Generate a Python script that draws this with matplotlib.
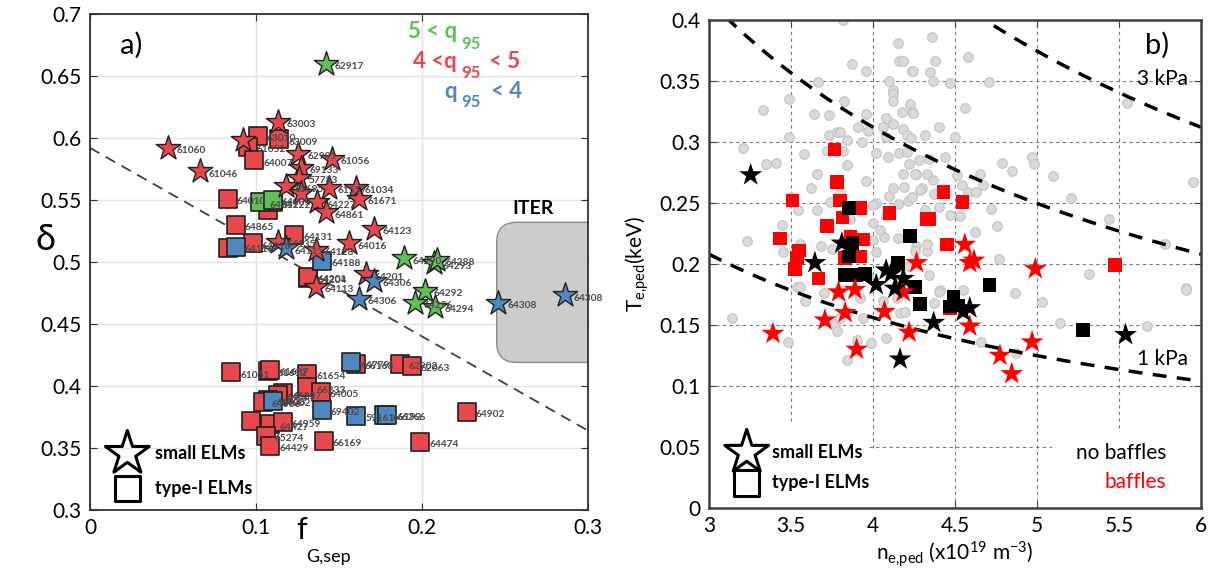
import matplotlib
matplotlib.use('Agg')
import matplotlib.pyplot as plt
from matplotlib.patches import FancyBboxPatch, Rectangle
import numpy as np

plt.rcParams['font.family'] = ['Lato', 'DejaVu Sans']
plt.rcParams['mathtext.fontset'] = 'custom'
plt.rcParams['mathtext.rm'] = 'Lato'
plt.rcParams['mathtext.it'] = 'Lato:italic'
plt.rcParams['mathtext.bf'] = 'Lato:bold'

# ---------------- panel a) data ----------------
# small ELMs (stars)
star_f = [0.142, 0.189, 0.207, 0.209, 0.2016, 0.1955, 0.208,
          0.047, 0.066, 0.113, 0.092, 0.1255, 0.1455, 0.127, 0.126, 0.118,
          0.144, 0.160, 0.162, 0.137, 0.142, 0.171, 0.156, 0.113, 0.136,
          0.166, 0.136, 0.127,
          0.118, 0.171, 0.162, 0.246, 0.286]
star_d = [0.660, 0.503, 0.499, 0.502, 0.477, 0.467, 0.464,
          0.592, 0.573, 0.613, 0.598, 0.587, 0.583, 0.576, 0.568, 0.561,
          0.560, 0.560, 0.551, 0.548, 0.540, 0.527, 0.515, 0.516, 0.510,
          0.490, 0.480, 0.556,
          0.511, 0.485, 0.470, 0.467, 0.473]
star_q = ['hi'] * 7 + ['mid'] * 21 + ['lo'] * 5
star_lbl = ['62917', '64290', '64293', '64288', '64292', '64296', '64294',
            '61060', '61046', '63003', '', '62901', '61056', '69133', '57783', '61695',
            '61557', '61034', '61671', '64227', '64861', '64123', '64016', '64135', '64128',
            '64201', '64113', '',
            '64115', '64306', '64306', '64308', '64308']

# type-I ELMs (squares)
sq_f = [0.101, 0.114, 0.095, 0.099, 0.083, 0.107, 0.110, 0.088, 0.083, 0.098,
        0.123, 0.1316, 0.1316, 0.085, 0.1075, 0.1085, 0.131, 0.160, 0.131, 0.139,
        0.1165, 0.113, 0.107, 0.104, 0.097, 0.1086, 0.116, 0.106, 0.1086, 0.141,
        0.199, 0.227, 0.1865, 0.194,
        0.1025, 0.110,
        0.088, 0.140, 0.1575, 0.110, 0.1395, 0.1605, 0.177, 0.179]
sq_d = [0.602, 0.599, 0.593, 0.582, 0.551, 0.542, 0.548, 0.530, 0.511, 0.515,
        0.522, 0.487, 0.488, 0.411, 0.412, 0.413, 0.410, 0.418, 0.399, 0.395,
        0.394, 0.393, 0.389, 0.387, 0.372, 0.369, 0.371, 0.360, 0.352, 0.356,
        0.355, 0.379, 0.418, 0.416,
        0.548, 0.550,
        0.512, 0.501, 0.419, 0.388, 0.381, 0.376, 0.377, 0.377]
sq_q = ['mid'] * 34 + ['hi'] * 2 + ['lo'] * 8
sq_lbl = ['63010', '63009', '61052', '64007', '64010', '', '64222', '64865', '', '64118',
          '64131', '64204', '64201', '61051', '61692', '61687', '61654', '66168', '66233', '64005',
          '66227', '64009', '64008', '64006', '', '64427', '64959', '65274', '64429', '66169',
          '64474', '64902', '62902', '62063',
          '64011', '64009',
          '64116', '64188', '64779', '64002', '69402', '59161', '66192', '66266']

q_colors = {'hi': '#62bf58', 'mid': '#e8474b', 'lo': '#5087bf'}

sep_line_f = [0.0, 0.3]
sep_line_d = [0.592, 0.364]

# ---------------- panel b) data ----------------
gray_n = [3.819, 4.154, 4.16, 4.185, 3.87, 4.24, 3.96, 3.667, 4.10, 4.12, 4.12, 4.12,
          3.49, 3.825, 3.33, 3.64, 3.73, 3.957, 4.226, 4.236, 4.175, 4.08, 4.12,
          3.73, 3.78, 3.80, 3.84, 3.91, 3.93, 3.97, 4.06, 4.08, 4.185, 4.205, 4.23, 4.317,
          3.21, 3.35, 3.41, 3.49, 3.72, 3.82, 3.84, 4.02, 4.09, 4.16, 4.205, 4.22, 4.26,
          4.185, 3.66, 3.74, 3.80, 3.50, 3.545, 3.66, 4.02, 4.00, 4.10, 4.15, 4.215, 4.30,
          4.33, 3.23, 3.443, 3.453, 3.555, 3.535, 3.86, 3.86, 3.92, 4.00, 4.02, 4.07,
          4.15, 4.26, 4.317, 4.33, 4.00, 4.08, 3.75,
          4.358, 4.58, 4.378, 4.246, 4.348, 4.368, 4.47, 4.71, 5.547, 4.242, 4.56, 4.40,
          4.50, 4.34, 4.785, 4.846, 4.97, 4.98, 5.10, 4.256, 4.368, 4.51, 4.54, 4.58,
          4.628, 4.65, 4.67, 5.95, 4.19, 4.236, 4.287, 4.37, 4.47, 4.53, 4.754, 5.21,
          5.44, 5.78, 4.40, 4.33, 4.256, 4.215, 4.34, 4.41, 4.77, 5.32, 5.91,
          3.138, 3.48, 3.555, 3.585, 3.70, 3.78, 3.77, 3.78, 3.80, 3.84, 3.90, 3.92,
          3.94, 3.99, 4.08, 4.165, 4.195, 4.145,
          4.40, 4.55, 4.866, 5.03, 5.14, 5.67, 5.91, 4.37, 4.66, 4.87,
          3.62, 3.68, 3.96, 4.04, 4.12, 4.28, 4.44, 4.62, 4.72, 4.06, 3.58, 3.97]
gray_t = [0.400, 0.381, 0.366, 0.366, 0.364, 0.358, 0.358, 0.349, 0.350, 0.343, 0.339, 0.334,
          0.335, 0.334, 0.326, 0.323, 0.322, 0.323, 0.331, 0.325, 0.325, 0.320, 0.315,
          0.306, 0.308, 0.308, 0.302, 0.312, 0.300, 0.309, 0.312, 0.304, 0.311, 0.306, 0.303, 0.306,
          0.295, 0.282, 0.283, 0.304, 0.293, 0.293, 0.281, 0.291, 0.288, 0.291, 0.292, 0.282, 0.274,
          0.274, 0.274, 0.251, 0.258, 0.255, 0.244, 0.244, 0.250, 0.248, 0.256, 0.249, 0.252, 0.262,
          0.274, 0.219, 0.232, 0.210, 0.216, 0.181, 0.237, 0.225, 0.206, 0.220, 0.210, 0.222,
          0.221, 0.215, 0.244, 0.211, 0.234, 0.239, 0.212,
          0.386, 0.370, 0.366, 0.358, 0.357, 0.350, 0.348, 0.349, 0.332, 0.324, 0.328, 0.312,
          0.304, 0.286, 0.283, 0.276, 0.288, 0.282, 0.272, 0.274, 0.269, 0.273, 0.265, 0.259,
          0.259, 0.274, 0.265, 0.267, 0.263, 0.255, 0.261, 0.257, 0.240, 0.239, 0.231, 0.254,
          0.237, 0.216, 0.247, 0.216, 0.211, 0.198, 0.191, 0.179, 0.204, 0.192, 0.180,
          0.156, 0.136, 0.181, 0.170, 0.176, 0.176, 0.151, 0.145, 0.156, 0.121, 0.138, 0.172,
          0.156, 0.135, 0.139, 0.160, 0.161, 0.172,
          0.177, 0.179, 0.176, 0.169, 0.152, 0.149, 0.179, 0.168, 0.136, 0.127,
          0.262, 0.215, 0.268, 0.228, 0.262, 0.285, 0.288, 0.226, 0.245, 0.170, 0.290, 0.190]

red_sq_n = [4.43, 4.545, 4.343, 4.45, 5.476, 3.764, 3.78, 3.80, 3.51, 4.10, 3.925, 3.813,
            3.72, 3.433, 3.55, 3.535, 3.525, 3.667, 3.94, 3.864, 3.83, 3.925, 4.33, 4.47]
red_sq_t = [0.259, 0.251, 0.237, 0.216, 0.199, 0.294, 0.267, 0.252, 0.252, 0.242, 0.246, 0.238,
            0.231, 0.221, 0.211, 0.205, 0.196, 0.188, 0.220, 0.222, 0.205, 0.206, 0.237, 0.164]

red_st_n = [4.56, 4.59, 4.616, 4.99, 4.266, 3.39, 3.707, 3.83, 3.79, 3.89, 3.90, 4.07,
            4.22, 4.185, 4.59, 4.97, 4.774, 4.846]
red_st_t = [0.216, 0.201, 0.203, 0.196, 0.201, 0.143, 0.154, 0.160, 0.177, 0.179, 0.130, 0.161,
            0.144, 0.177, 0.149, 0.136, 0.125, 0.110]

blk_sq_n = [4.226, 4.71, 3.855, 3.876, 3.855, 3.83, 3.90, 3.95, 4.154, 4.256, 4.287,
            4.49, 4.52, 4.47, 5.28]
blk_sq_t = [0.223, 0.183, 0.246, 0.217, 0.206, 0.191, 0.191, 0.192, 0.201, 0.181, 0.167,
            0.173, 0.166, 0.165, 0.146]

blk_st_n = [3.254, 3.646, 3.81, 4.02, 4.08, 4.11, 4.185, 4.134, 4.165, 4.37, 4.59, 4.55, 5.54]
blk_st_t = [0.273, 0.201, 0.217, 0.183, 0.195, 0.192, 0.188, 0.180, 0.122, 0.152, 0.164, 0.161, 0.142]

isobar_kpa = [1, 2, 3]

# ================= figure =================
fig = plt.figure(figsize=(12.18, 5.77), dpi=100)

# ---------- panel a ----------
ax1 = fig.add_axes([90 / 1218, 1 - 510 / 577, 498 / 1218, 496 / 577])
ax1.set_xlim(0, 0.3)
ax1.set_ylim(0.3, 0.7)
ax1.grid(True, color='#e3e3e3', lw=1)
ax1.set_axisbelow(True)

ax1.plot(sep_line_f, sep_line_d, ls=(0, (6, 4)), color='#404040', lw=1.3, zorder=2)

iter_box = FancyBboxPatch((0.245, 0.419), 0.09, 0.113,
                          boxstyle='round,pad=0,rounding_size=0.012',
                          mutation_aspect=1657 / 1240,
                          fc='#cccccc', ec='#8a8a8a', lw=1, zorder=1.5)
ax1.add_patch(iter_box)
ax1.text(0.2667, 0.543, 'ITER', fontsize=14, fontweight='bold', ha='center', va='center')

for f, d, q, lb in zip(sq_f, sq_d, sq_q, sq_lbl):
    ax1.scatter(f, d, marker='s', s=150, c=q_colors[q], edgecolors='#202020', linewidths=1.2, zorder=3)
    if lb:
        ax1.annotate(lb, (f, d), xytext=(6.5, -2), textcoords='offset points',
                     fontsize=7.3, fontweight='bold', color='#4a4a4a', va='center', zorder=4)
for f, d, q, lb in zip(star_f, star_d, star_q, star_lbl):
    ax1.scatter(f, d, marker='*', s=340, c=q_colors[q], edgecolors='#202020', linewidths=1.0, zorder=3)
    if lb:
        ax1.annotate(lb, (f, d), xytext=(6.5, -2), textcoords='offset points',
                     fontsize=7.3, fontweight='bold', color='#4a4a4a', va='center', zorder=4)

# q95 legend
qs = dict(fontsize=16, fontweight='bold')
ax1.text(0.2209, 0.6855, '5 < q', color=q_colors['hi'], ha='right', va='center', **qs)
ax1.text(0.2239, 0.6755, '95', color=q_colors['hi'], ha='left', va='center', fontsize=12, fontweight='bold')
ax1.text(0.2209, 0.6613, '4 <q', color=q_colors['mid'], ha='right', va='center', **qs)
ax1.text(0.2239, 0.6525, '95', color=q_colors['mid'], ha='left', va='center', fontsize=12, fontweight='bold')
ax1.text(0.2402, 0.6613, '< 5', color=q_colors['mid'], ha='left', va='center', **qs)
ax1.text(0.2209, 0.6371, 'q', color=q_colors['lo'], ha='right', va='center', **qs)
ax1.text(0.2239, 0.6290, '95', color=q_colors['lo'], ha='left', va='center', fontsize=12, fontweight='bold')
ax1.text(0.2414, 0.6371, '< 4', color=q_colors['lo'], ha='left', va='center', **qs)

ax1.text(0.018, 0.675, 'a)', fontsize=21, ha='left', va='center')

# marker legend
ax1.scatter([0.0225], [0.3455], marker='*', s=1100, facecolors='none', edgecolors='black', linewidths=2.2, zorder=5)
ax1.scatter([0.0225], [0.3175], marker='s', s=330, facecolors='none', edgecolors='black', linewidths=2.2, zorder=5)
ax1.text(0.039, 0.3455, 'small ELMs', fontsize=13, fontweight='bold', va='center')
ax1.text(0.039, 0.3175, 'type-I ELMs', fontsize=13, fontweight='bold', va='center')

ax1.set_xticks([0, 0.1, 0.2, 0.3])
ax1.set_xticklabels(['0', '0.1', '0.2', '0.3'])
yt = np.arange(0.3, 0.701, 0.05)
ax1.set_yticks(yt)
ax1.set_yticklabels(['0.3', '0.35', '0.4', '0.45', '0.5', '0.55', '0.6', '0.65', '0.7'])
ax1.tick_params(direction='in', top=True, right=True, labelsize=15, length=5, color='#303030', pad=6)
for sp in ax1.spines.values():
    sp.set_color('#303030')
    sp.set_linewidth(1.3)

fig.text(45 / 1218, 1 - 240 / 577, 'δ', fontsize=26, ha='center', va='center')
fig.text(302 / 1218, 1 - 530 / 577, 'f', fontsize=22, ha='center', va='center')
fig.text(328 / 1218, 1 - 557 / 577, 'G,sep', fontsize=13, ha='center', va='center')

# ---------- panel b ----------
ax2 = fig.add_axes([709 / 1218, 1 - 508 / 577, 492 / 1218, 488 / 577])
ax2.set_xlim(3, 6)
ax2.set_ylim(0, 0.4)
ax2.grid(True, color='#7a7a7a', ls=(0, (3, 3)), lw=0.8)
ax2.set_axisbelow(True)
ax2.add_patch(Rectangle((3, 0), 0.97, 0.07, fc='white', ec='none', zorder=1.2))
ax2.add_patch(Rectangle((3, 0), 1.02, 0.047, fc='white', ec='none', zorder=1.2))
ax2.add_patch(Rectangle((5.09, 0), 0.95, 0.062, fc='white', ec='none', zorder=1.2))

nn = np.linspace(3, 6, 200)
for p in isobar_kpa:
    ax2.plot(nn, p * 1e3 / 1.602e3 / nn, color='black', ls=(0, (4, 3)), lw=2.5, zorder=2.5)

ax2.scatter(gray_n, gray_t, s=48, c='#dadada', edgecolors='#c4c4c4', linewidths=0.8, zorder=2)
ax2.scatter(red_sq_n, red_sq_t, marker='s', s=95, c='#ff0000', edgecolors='none', zorder=3)
ax2.scatter(blk_sq_n, blk_sq_t, marker='s', s=95, c='black', edgecolors='none', zorder=3)
ax2.scatter(red_st_n, red_st_t, marker='*', s=300, c='#ff0000', edgecolors='none', zorder=3)
ax2.scatter(blk_st_n, blk_st_t, marker='*', s=300, c='black', edgecolors='none', zorder=3)

ax2.text(5.92, 0.352, '3 kPa', fontsize=15, ha='right', va='center')
ax2.text(5.92, 0.122, '1 kPa', fontsize=15, ha='right', va='center')
ax2.text(5.66, 0.3795, 'b)', fontsize=21, ha='left', va='center')
ax2.text(5.79, 0.045, 'no baffles', fontsize=15, ha='right', va='center', color='black')
ax2.text(5.79, 0.021, 'baffles', fontsize=15, ha='right', va='center', color='#ff0000')

ax2.scatter([3.23], [0.0455], marker='*', s=1100, facecolors='none', edgecolors='black', linewidths=2.2, zorder=5)
ax2.scatter([3.23], [0.0205], marker='s', s=330, facecolors='none', edgecolors='black', linewidths=2.2, zorder=5)
ax2.text(3.385, 0.0455, 'small ELMs', fontsize=13, fontweight='bold', va='center')
ax2.text(3.385, 0.0205, 'type-I ELMs', fontsize=13, fontweight='bold', va='center')

ax2.set_xticks(np.arange(3, 6.01, 0.5))
ax2.set_xticklabels(['3', '3.5', '4', '4.5', '5', '5.5', '6'])
ax2.set_yticks(np.arange(0, 0.401, 0.05))
ax2.set_yticklabels(['0', '0.05', '0.1', '0.15', '0.2', '0.25', '0.3', '0.35', '0.4'])
ax2.tick_params(direction='in', top=True, right=True, labelsize=15, length=5, color='#404040', pad=6)
for sp in ax2.spines.values():
    sp.set_color('#404040')
    sp.set_linewidth(1.8)

ax2.set_xlabel(r'n$_{\rm e{,}ped}$ (x10$^{19}$ m$^{-3}$)', fontsize=15, labelpad=2)
ax2.set_ylabel(r'T$_{\rm e{,}ped}$(keV)', fontsize=15, labelpad=6)

fig.savefig('out.png', dpi=100)
